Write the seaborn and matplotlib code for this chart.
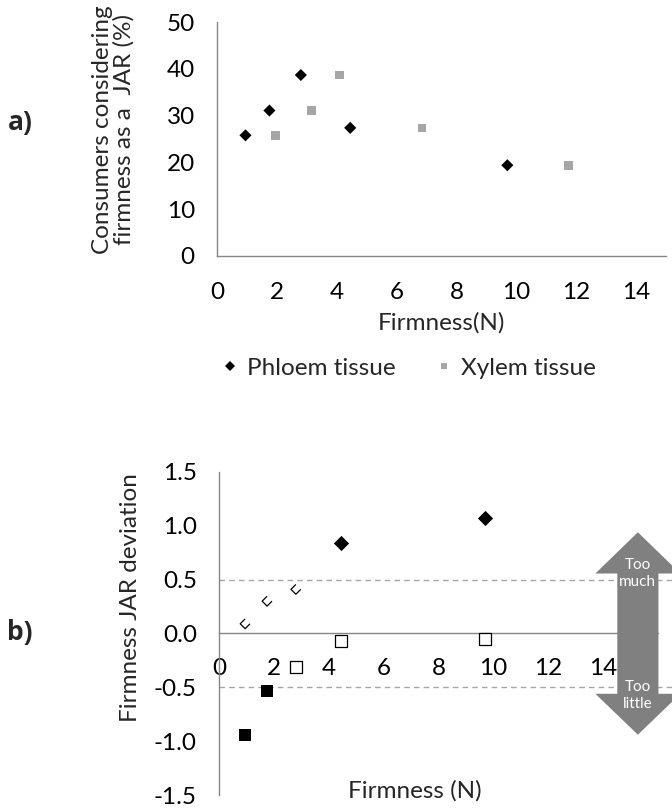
import numpy as np
import pandas as pd
import matplotlib
matplotlib.use("Agg")
import matplotlib.pyplot as plt
import seaborn as sns
from matplotlib.path import Path
from matplotlib.patches import Polygon

# Datos
firm_phloem = [0.95, 1.75, 2.8, 4.45, 9.7]
firm_xylem = [1.95, 3.15, 4.1, 6.85, 11.75]
jar_pct = [25.8, 31.1, 38.7, 27.4, 19.4]

dev_too_much = [0.09, 0.30, 0.41, 0.84, 1.07]
dev_too_little = [-0.94, -0.53, -0.31, -0.07, -0.05]
sig_too_much = [False, False, False, True, True]
sig_too_little = [True, True, False, False, False]

tissues = ["Phloem tissue", "Xylem tissue"]
x_ticks = [0, 2, 4, 6, 8, 10, 12, 14]
y_ticks_a = [0, 10, 20, 30, 40, 50]
y_ticks_b = [-1.5, -1.0, -0.5, 0.0, 0.5, 1.0, 1.5]

sns.set_style("white")
plt.rcParams["font.family"] = ["Lato", "DejaVu Sans"]
plt.rcParams["axes.unicode_minus"] = False

AXIS_GREY = "#868686"
FS = 17.5

fig = plt.figure(figsize=(6.72, 8.09), dpi=100)
ax1 = fig.add_axes([0.323, 0.6836, 0.668, 0.289])
ax2 = fig.add_axes([0.326, 0.0173, 0.653, 0.3993])

# ============================================================================
# a) % consumidores JAR vs firmeza
# ============================================================================
df_a = pd.DataFrame({
    "firmness": firm_phloem + firm_xylem,
    "jar": jar_pct + jar_pct,
    "tissue": [tissues[0]] * len(firm_phloem) + [tissues[1]] * len(firm_xylem),
})
sns.scatterplot(data=df_a, x="firmness", y="jar", hue="tissue", style="tissue",
                palette={tissues[0]: "black", tissues[1]: "#a6a6a6"},
                markers={tissues[0]: "D", tissues[1]: "s"},
                s=38, linewidth=0, ax=ax1, zorder=3)
ax1.set_xlim(0, 15)
ax1.set_ylim(0, 50)
ax1.set_xticks(x_ticks)
ax1.set_yticks(y_ticks_a)
ax1.set_xlabel("Firmness(N)", fontsize=FS, labelpad=6)
ax1.set_ylabel("Consumers considering\nfirmness as a  JAR (%)", fontsize=FS, linespacing=1.05)
ax1.yaxis.set_label_coords(-0.183, 0.54)
sns.move_legend(ax1, "center", bbox_to_anchor=(0.425, -0.48), ncol=2, frameon=False,
                title=None, fontsize=FS, columnspacing=1.6, handlelength=0.8,
                handletextpad=0.3, markerscale=0.8)

# ============================================================================
# b) Desviacion JAR
# ============================================================================
df_b = pd.DataFrame({
    "firmness": firm_phloem + firm_phloem,
    "dev": dev_too_much + dev_too_little,
    "kind": ["much"] * 5 + ["little"] * 5,
    "sig": sig_too_much + sig_too_little,
})

cup = Path([(0, 1), (-1, 0), (0, -1), (1, 0)],
           [Path.MOVETO, Path.LINETO, Path.LINETO, Path.LINETO])

sel = df_b[(df_b.kind == "much") & df_b.sig]
sns.scatterplot(data=sel, x="firmness", y="dev", marker="D", color="black",
                s=60, linewidth=0, ax=ax2, zorder=4)
sel = df_b[(df_b.kind == "much") & ~df_b.sig]
sns.scatterplot(data=sel, x="firmness", y="dev", marker=cup, color="black",
                facecolor="none", edgecolor="black", s=50, linewidth=0.9, ax=ax2, zorder=4)
sel = df_b[(df_b.kind == "little") & df_b.sig]
sns.scatterplot(data=sel, x="firmness", y="dev", marker="s", color="black",
                s=80, linewidth=0, ax=ax2, zorder=4)
sel = df_b[(df_b.kind == "little") & ~df_b.sig]
sns.scatterplot(data=sel, x="firmness", y="dev", marker="s", color="black",
                facecolor="white", edgecolor="black", s=70, linewidth=0.9, ax=ax2, zorder=4)

ax2.set_xlim(0, 16)
ax2.set_ylim(-1.5, 1.5)
ax2.set_xticks(x_ticks)
ax2.set_yticks(y_ticks_b)
ax2.set_yticklabels([f"{v:.1f}" for v in y_ticks_b])
ax2.spines["bottom"].set_position(("data", 0))
ax2.set_xlabel("")
ax2.set_ylabel("Firmness JAR deviation", fontsize=FS)
ax2.yaxis.set_label_coords(-0.178, 0.61)
ax2.text(7.15, -1.46, "Firmness (N)", fontsize=FS, ha="center", va="center")

# lineas de referencia +-0.5
ax2.hlines([0.5, -0.5], 0, 16.6, colors="#a6a6a6", linestyles=(0, (4, 3)),
           linewidth=1, clip_on=False, zorder=1)

# flecha doble "Too much / Too little"
cx, shaft, head = 15.27, 0.75, 1.55
top_tip, top_base, bot_base, bot_tip = 0.94, 0.557, -0.56, -0.94
verts = [(cx - shaft, top_base), (cx - head, top_base), (cx, top_tip),
         (cx + head, top_base), (cx + shaft, top_base), (cx + shaft, bot_base),
         (cx + head, bot_base), (cx, bot_tip), (cx - head, bot_base),
         (cx - shaft, bot_base)]
ax2.add_patch(Polygon(verts, closed=True, facecolor="#808080", edgecolor="none",
                      clip_on=False, zorder=5))
ax2.text(cx, 0.56, "Too\nmuch", color="white", fontsize=11, ha="center", va="center",
         linespacing=1.25, zorder=6)
ax2.text(cx, -0.575, "Too\nlittle", color="white", fontsize=11, ha="center", va="center",
         linespacing=1.25, zorder=6)

# estilo de ejes (tipo Excel)
for ax in (ax1, ax2):
    for side in ("top", "right"):
        ax.spines[side].set_visible(False)
    for side in ("left", "bottom"):
        ax.spines[side].set_color(AXIS_GREY)
        ax.spines[side].set_linewidth(1)
    ax.tick_params(axis="both", direction="out", length=6, width=1, color=AXIS_GREY,
                   labelsize=FS, labelcolor="black")
    ax.tick_params(axis="y", pad=10)
ax1.tick_params(axis="x", pad=13)
ax2.tick_params(axis="x", pad=12)

fig.text(0.03, 0.848, "a)", fontsize=19, fontweight="bold", ha="center", va="center",
         family=["Open Sans", "DejaVu Sans"])
fig.text(0.03, 0.2176, "b)", fontsize=19, fontweight="bold", ha="center", va="center",
         family=["Open Sans", "DejaVu Sans"])

plt.savefig("out.png", dpi=100)
plt.close()
